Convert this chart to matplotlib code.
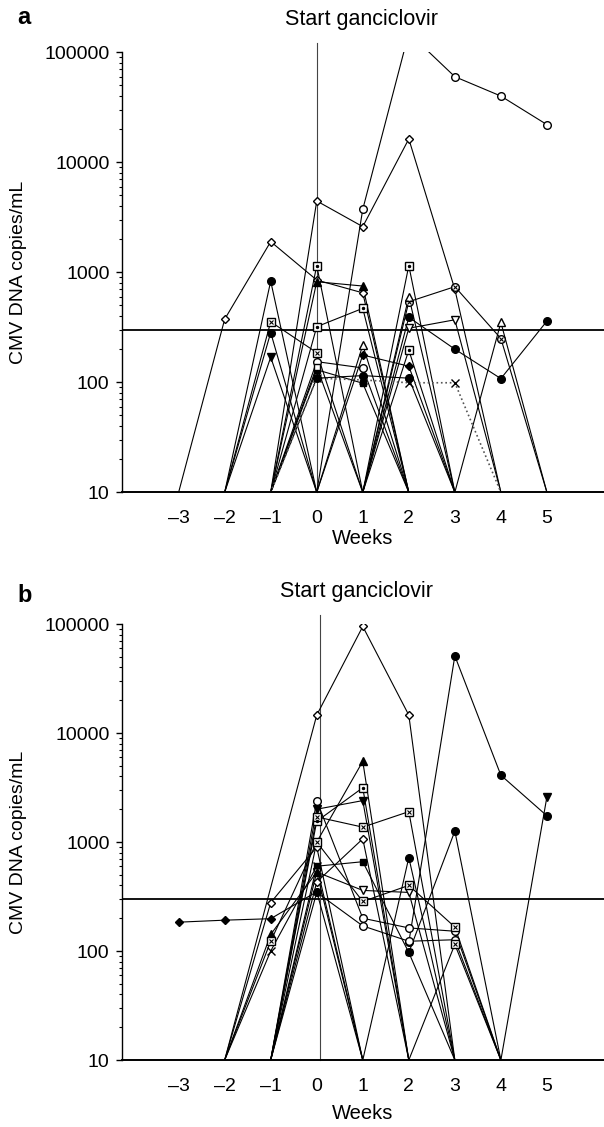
import numpy as np
import matplotlib.pyplot as plt

plt.rcParams['font.family'] = ['Liberation Sans', 'DejaVu Sans']

weeks = [-3, -2, -1, 0, 1, 2, 3, 4, 5]
week_labels = ['–3', '–2', '–1', '0', '1', '2', '3', '4', '5']
N = None

# panel a: CMV DNA copies/mL per week (10 = below detection)
a_series = {
    'A': ([10, 374, 1900, 850, 650, 10, N, N, N], 'D'),
    'B': ([N, N, 10, 4450, 2600, 16300, 700, 10, N], 'D'),
    'C': ([N, N, N, 10, 3740, 150000, 60000, 40000, 22000], 'o'),
    'D': ([N, N, 10, 1150, 10, 1150, 10, N, N], 's.'),
    'E': ([N, 10, 830, 10, N, N, N, N, N], 'of'),
    'F': ([N, 10, 355, 186, 10, N, N, N, N], 'sx'),
    'G': ([N, 10, 283, 10, N, N, N, N, N], 'of'),
    'H': ([N, 10, 169, 10, N, N, N, N, N], 'vf'),
    'I': ([N, N, 10, 820, 750, 10, N, N, N], '^f'),
    'J': ([N, N, 10, 320, 470, 10, N, N, N], 's.'),
    'K': ([N, N, N, 10, 10, 540, 740, 250, 10], 'ox'),
    'L': ([N, N, N, N, 10, 390, 200, 108, 360], 'of'),
    'M': ([N, N, 10, 130, 98, 10, N, N, N], 'sf'),
    'P': ([N, N, N, 10, 177, 140, 10, N, N], 'Df'),
    'Q': ([N, N, N, N, 10, 600, 10, N, N], '^'),
    'R': ([N, N, N, N, 10, 310, 370, 10, N], 'v'),
    'S': ([N, N, N, 10, 218, 10, N, N, N], '^'),
    'T': ([N, N, 10, 154, 135, 10, N, N, N], 'o'),
    'U': ([N, N, 10, 109, 115, 109, 10, N, N], 'of'),
    'V': ([N, N, N, N, 10, 196, 10, N, N], 's.'),
    'W': ([N, N, 10, 138, 10, N, N, N, N], 's'),
    'Y': ([N, N, N, N, N, N, 10, 350, 10], '^'),
}
a_dotted = ([N, N, 10, 109, 105, 99, 99, 10, N], 'x')

# panel b
b_series = {
    'b1': ([N, 10, N, 14600, 95000, 14600, 10, N, N], 'D'),
    'b2': ([N, N, N, N, N, 120, 51000, 4100, 1740], 'of'),
    'b3': ([N, N, N, N, N, N, N, 10, 2600], 'vf'),
    'b4': ([N, N, N, N, N, 97, 1260, 10, N], 'of'),
    'b5': ([N, N, 10, 1000, 5500, 10, N, N, N], '^f'),
    'b6': ([N, N, 10, 1550, 3150, 10, N, N, N], 's.'),
    'b7': ([N, N, 10, 2000, 2400, 10, N, N, N], 'vf'),
    'b8': ([N, N, 10, 1700, 1370, 1900, 10, N, N], 'sx'),
    'b9': ([N, N, 10, 430, 1070, 10, N, N, N], 'D'),
    'b10': ([N, N, 10, 600, 660, 97, 10, N, N], 'sf'),
    'b11': ([N, N, 10, 530, 360, 345, 10, N, N], 'v'),
    'b12': ([N, N, 10, 2400, 200, 163, 152, 10, N], 'o'),
    'b13': ([N, N, 10, 345, 170, 123, 127, 10, N], 'o'),
    'b14': ([184, 192, 198, 350, 10, N, N, N, N], 'Df'),
    'b15': ([N, N, N, N, 10, 720, 10, N, N], 'of'),
    'b16': ([N, 10, 278, 900, 10, N, N, N, N], 'D'),
    'b17': ([N, 10, 142, 530, 10, N, N, N, N], '^f'),
    'b18': ([N, 10, 123, 1000, 285, 400, 166, 10, N], 'sx'),
    'b19': ([N, 10, 100, 600, 10, N, N, N, N], 'x'),
    'b20': ([N, N, N, N, N, 10, 115, 10, N], 'sx'),
}

MARKERS = {
    'D': ('D', False, None, 4.0),
    'Df': ('D', True, None, 4.0),
    'o': ('o', False, None, 5.5),
    'of': ('o', True, None, 5.5),
    's': ('s', False, None, 5.0),
    'sf': ('s', True, None, 5.0),
    's.': ('s', False, '.', 5.5),
    'sx': ('s', False, 'x', 5.5),
    'ox': ('o', False, 'x', 5.5),
    'v': ('v', False, None, 5.5),
    'vf': ('v', True, None, 5.5),
    '^': ('^', False, None, 5.5),
    '^f': ('^', True, None, 5.5),
    'x': ('x', True, None, 6.0),
}


def draw(ax, vals, mk, ls='-', color='black', lw=0.8):
    # skip missing weeks so the line joins the measured points
    x = np.array([w for w, v in zip(weeks, vals) if v is not None], float)
    y = np.array([v for v in vals if v is not None], float)
    ax.plot(x, y, ls, color=color, lw=lw, zorder=2)
    m = y > 10
    base, filled, extra, ms = MARKERS[mk]
    ax.plot(x[m], y[m], ls='none', marker=base, ms=ms,
            mfc='black' if filled else 'white', mec='black', mew=1.0, zorder=3)
    if extra:
        ax.plot(x[m], y[m], ls='none', marker=extra, ms=ms * 0.6,
                color='black', mew=0.8, zorder=4)


def setup(ax, vline_x, labely):
    ax.set_yscale('log')
    ax.set_ylim(10, 100000)
    ax.set_xlim(-4.23, 6.24)
    ax.set_yticks([10, 100, 1000, 10000, 100000])
    ax.set_yticklabels(['10', '100', '1000', '10000', '100000'])
    ax.set_xticks(weeks)
    ax.set_xticklabels(week_labels)
    ax.tick_params(axis='y', which='major', length=4, width=1, labelsize=14, pad=5)
    ax.tick_params(axis='y', which='minor', length=2.5, width=0.8)
    ax.tick_params(axis='x', length=0, labelsize=14, pad=13)
    for s in ['top', 'right']:
        ax.spines[s].set_visible(False)
    ax.spines['left'].set_linewidth(1.0)
    ax.spines['bottom'].set_linewidth(1.4)
    ax.axhline(300, color='black', lw=1.3, zorder=1)
    ax.axvline(vline_x, ymin=0, ymax=1.021, color='#444444', lw=0.8,
               clip_on=False, zorder=1)
    ax.set_ylabel('CMV DNA copies/mL', fontsize=14, va='center')
    ax.yaxis.set_label_coords(-0.215, 0.5)
    ax.set_xlabel('Weeks', fontsize=14.5, va='center')
    ax.xaxis.set_label_coords(0.5, labely)


fig = plt.figure(figsize=(6.04, 11.27), dpi=100)
ax_a = fig.add_axes([0.202, 0.5632, 0.798, 0.3904])
ax_b = fig.add_axes([0.202, 0.0594, 0.798, 0.3869])

setup(ax_a, 0.0, -0.104)
for vals, mk in a_series.values():
    draw(ax_a, vals, mk)
draw(ax_a, a_dotted[0], a_dotted[1], ls=':', color='#555555', lw=1.2)

setup(ax_b, 0.06, -0.122)
for vals, mk in b_series.values():
    draw(ax_b, vals, mk)

fig.text(17 / 604, 1 - 17 / 1127, 'a', fontsize=17, fontweight='bold', va='center', ha='left')
fig.text(362 / 604, 1 - 20 / 1127, 'Start ganciclovir', fontsize=15.5, va='center', ha='center')
fig.text(17 / 604, 1 - 595 / 1127, 'b', fontsize=17, fontweight='bold', va='center', ha='left')
fig.text(357 / 604, 1 - 592 / 1127, 'Start ganciclovir', fontsize=15.5, va='center', ha='center')

fig.savefig('out.png', dpi=100)
